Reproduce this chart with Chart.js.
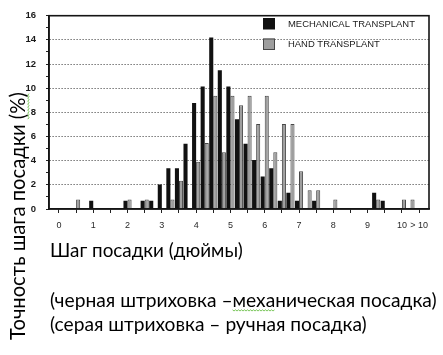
<!DOCTYPE html>
<html>
<head>
<meta charset="utf-8">
<script src="https://cdn.jsdelivr.net/npm/chart.js@4.4.1/dist/chart.umd.min.js"></script>
<style>
html,body{margin:0;padding:0;background:#fff;}
#wrap{position:relative;width:443px;height:355px;}
</style>
</head>
<body>
<div id="wrap"><canvas id="c" width="443" height="355"></canvas></div>
<script>
// Bin centres (inches), 0.25-inch bins
const bins = [0,0.25,0.5,0.75,1,1.25,1.5,1.75,2,2.25,2.5,2.75,3,3.25,3.5,3.75,4,4.25,4.5,4.75,5,5.25,5.5,5.75,6,6.25,6.5,6.75,7,7.25,7.5,7.75,8,8.25,8.5,8.75,9,9.25,9.5,9.75,10,10.25,10.5];
// Mechanical transplant (black bars), %
const mechanical = [0,0,0,0,0.68,0,0,0,0.68,0,0.68,0.68,2.03,3.38,3.38,5.41,8.78,10.14,14.19,11.49,10.14,7.43,5.41,4.05,2.7,3.38,0.68,1.35,0.68,0,0.68,0,0,0,0,0,0,1.35,0.68,0,0,0,0];
// Hand transplant (grey bars), %
const hand = [0,0,0.78,0,0,0,0,0,0.78,0,0.78,0,0,0.78,2.34,0,3.91,5.47,9.38,4.69,9.38,8.59,9.38,7.03,9.38,4.69,7.03,7.03,3.13,1.56,1.56,0,0.78,0,0,0,0,0.78,0,0,0.78,0.78,0];
// Axis ticks
const xTickValues = [0,0.5,1,1.5,2,2.5,3,3.5,4,4.5,5,5.5,6,6.5,7,7.5,8,8.5,9,9.5,10,10.5];
const xTickLabels = ['0','','1','','2','','3','','4','','5','','6','','7','','8','','9','','10','> 10'];
const yTickLabels = ['0','','2','','4','','6','','8','','10','','12','','14','','16'];
const seriesNames = ['MECHANICAL TRANSPLANT','HAND TRANSPLANT'];
const yTitle = 'Точность шага посадки (%)';
const xTitle = 'Шаг посадки (дюймы)';
const noteLines = ['(черная штриховка –механическая посадка)','(серая штриховка – ручная посадка)'];

const RU_FONT = 'Lato, "Open Sans", "Noto Sans", sans-serif';
const LEG_FONT = '"Liberation Sans Narrow", "Liberation Sans", Arial, sans-serif';
function fitFont(ctx, text, width, family, weight) {
  ctx.font = (weight||'') + ' 20px ' + family;
  const w = ctx.measureText(text).width;
  return 20 * width / w;
}

const framePlugin = {
  id: 'frame',
  afterDraw(chart) {
    const {ctx, chartArea: a} = chart;
    ctx.save();
    ctx.strokeStyle = '#151515';
    ctx.lineWidth = 1.6;
    ctx.strokeRect(a.left, a.top, a.right - a.left, a.bottom - a.top);
    ctx.restore();
  }
};

const legendPlugin = {
  id: 'insideLegend',
  afterDraw(chart) {
    const {ctx} = chart;
    ctx.save();
    const ds = chart.data.datasets;
    const sx = 263, tx = 288;
    const rows = [18, 38.5];
    const size = Math.min(10, fitFont(ctx, seriesNames[0], 127, LEG_FONT, ''));
    ds.forEach((d, i) => {
      const y = rows[i];
      ctx.fillStyle = d.backgroundColor;
      ctx.fillRect(sx, y, 12, 11.5);
      if (d.borderWidth) {
        ctx.strokeStyle = d.borderColor;
        ctx.lineWidth = 1;
        ctx.strokeRect(sx + 0.5, y + 0.5, 11, 10.5);
      }
      ctx.fillStyle = '#1a1a1a';
      ctx.font = size + 'px ' + LEG_FONT;
      ctx.textBaseline = 'middle';
      ctx.textAlign = 'left';
      ctx.fillText(d.label, tx, y + 6);
    });
    ctx.restore();
  }
};

function squiggle(ctx, x1, x2, y) {
  ctx.beginPath();
  for (let x = x1, k = 0; x <= x2; x += 1.5, k++) {
    const yy = y + (k % 2 ? 1 : -0.2);
    if (k === 0) ctx.moveTo(x, yy); else ctx.lineTo(x, yy);
  }
  ctx.stroke();
}

const textPlugin = {
  id: 'ruText',
  afterDraw(chart) {
    const {ctx} = chart;
    ctx.save();
    ctx.fillStyle = '#000';
    ctx.textAlign = 'left';
    ctx.textBaseline = 'alphabetic';
    let s = fitFont(ctx, xTitle, 193, RU_FONT);
    ctx.font = s + 'px ' + RU_FONT;
    ctx.fillText(xTitle, 50, 256.5);
    s = fitFont(ctx, noteLines[0], 387, RU_FONT);
    ctx.font = s + 'px ' + RU_FONT;
    ctx.fillText(noteLines[0], 50, 306.5);
    const wPre = ctx.measureText('(черная штриховка –').width;
    const wMe = ctx.measureText('меха').width;
    s = fitFont(ctx, noteLines[1], 317, RU_FONT);
    ctx.font = s + 'px ' + RU_FONT;
    ctx.fillText(noteLines[1], 50, 331);
    // rotated y title
    s = fitFont(ctx, yTitle, 248, RU_FONT);
    ctx.font = s + 'px ' + RU_FONT;
    ctx.save();
    ctx.translate(24.5, 340);
    ctx.rotate(-Math.PI / 2);
    ctx.fillText(yTitle, 0, 0);
    const wBefore = ctx.measureText('Точность шага посадки ').width;
    const wAll = ctx.measureText(yTitle).width;
    ctx.strokeStyle = '#6cc04a';
    ctx.lineWidth = 0.9;
    squiggle(ctx, wBefore, wAll, 3.5);
    ctx.restore();
    ctx.strokeStyle = '#6cc04a';
    ctx.lineWidth = 0.9;
    squiggle(ctx, 50 + wPre, 50 + wPre + wMe, 310);
    ctx.restore();
  }
};

const ctx = document.getElementById('c').getContext('2d');
new Chart(ctx, {
  type: 'bar',
  data: {
    datasets: [
      {
        label: seriesNames[0],
        data: bins.map((x, i) => ({x: x, y: mechanical[i]})),
        backgroundColor: '#111111',
        borderWidth: 0,
        categoryPercentage: 0.95,
        barPercentage: 1.0
      },
      {
        label: seriesNames[1],
        data: bins.map((x, i) => ({x: x, y: hand[i]})),
        backgroundColor: '#9e9e9e',
        borderColor: '#474747',
        borderWidth: 1,
        categoryPercentage: 0.95,
        barPercentage: 1.0
      }
    ]
  },
  options: {
    responsive: false,
    animation: false,
    devicePixelRatio: 1,
    layout: {padding: {left: 0, top: 9, right: 14, bottom: 0}},
    plugins: {
      legend: {display: false},
      title: {display: false},
      tooltip: {enabled: false}
    },
    scales: {
      x: {
        type: 'linear',
        min: -0.29,
        max: 10.79,
        offset: false,
        afterBuildTicks: axis => { axis.ticks = xTickValues.map(v => ({value: v})); },
        afterFit: axis => { axis.height = 146; },
        grid: {offset: false, drawOnChartArea: false, drawTicks: true, tickLength: 4, tickColor: '#222', tickWidth: 1},
        border: {display: true, color: '#151515', width: 1.6},
        ticks: {
          autoSkip: false,
          maxRotation: 0,
          minRotation: 0,
          padding: 7,
          color: '#2a2a2a',
          font: {family: '"Liberation Sans", Arial, sans-serif', size: 9},
          callback: (v) => { const i = xTickValues.indexOf(v); return i >= 0 ? xTickLabels[i] : ''; }
        }
      },
      y: {
        min: 0,
        max: 16,
        afterFit: axis => { axis.width = 49; },
        grid: {
          drawTicks: true,
          tickLength: 3,
          tickColor: '#222',
          lineWidth: 1,
          color: c => (c.tick && c.tick.value % 2 === 0 && c.tick.value > 0 && c.tick.value < 16) ? '#333333' : 'rgba(0,0,0,0)'
        },
        border: {display: true, color: '#151515', width: 1.6, dash: [1, 2]},
        ticks: {
          stepSize: 1,
          autoSkip: false,
          padding: 10,
          color: '#1a1a1a',
          font: {family: '"Liberation Sans", Arial, sans-serif', size: 9.5, weight: 'bold'},
          callback: (v) => yTickLabels[v] !== undefined ? yTickLabels[v] : ''
        }
      }
    }
  },
  plugins: [framePlugin, legendPlugin, textPlugin]
});
</script>
</body>
</html>
